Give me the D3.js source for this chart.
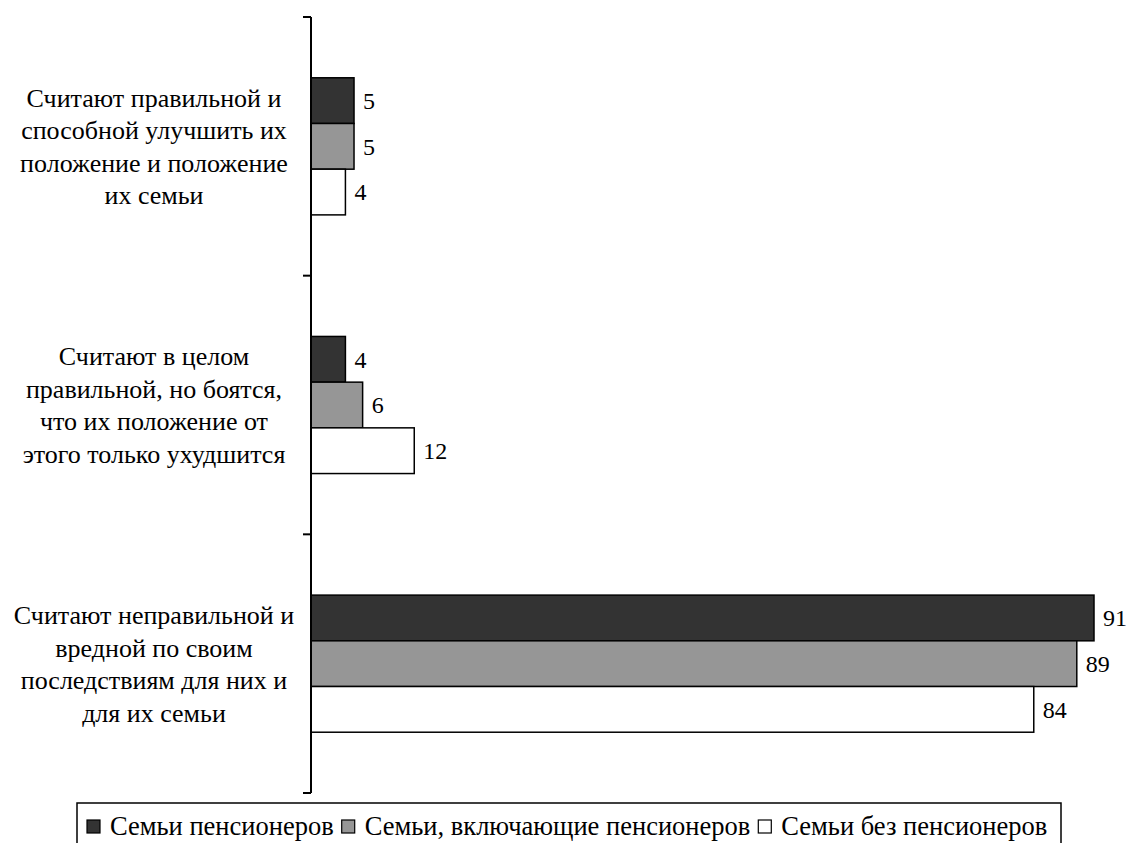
<!DOCTYPE html>
<html>
<head>
<meta charset="utf-8">
<script src="https://cdn.jsdelivr.net/npm/d3@7"></script>
<style>
  body { margin: 0; background: #fff; }
</style>
</head>
<body>
<svg id="chart" width="1129" height="843"></svg>
<script>
// categories, top to bottom (each one split into lines)
var categories = [
  ['Считают правильной и', 'способной улучшить их', 'положение и положение', 'их семьи'],
  ['Считают в целом', 'правильной, но боятся,', 'что их положение от', 'этого только ухудшится'],
  ['Считают неправильной и', 'вредной по своим', 'последствиям для них и', 'для их семьи']
];
var seriesNames = ['Семьи пенсионеров', 'Семьи, включающие пенсионеров', 'Семьи без пенсионеров'];
var seriesColors = ['#333333', '#969696', '#ffffff'];

var pensioners = [5, 4, 91];
var withPensioners = [5, 6, 89];
var withoutPensioners = [4, 12, 84];
var series = [pensioners, withPensioners, withoutPensioners];

var svg = d3.select('#chart');
var font = 'Liberation Serif';

// scales
var x = d3.scaleLinear().domain([0, 91]).range([311, 1094]);
var y = d3.scaleBand().domain(d3.range(categories.length)).range([17, 793]);
var yInner = d3.scaleBand()
  .domain(d3.range(series.length))
  .range([0, y.bandwidth()])
  .paddingOuter(1.33);

// bars
for (let s = 0; s < series.length; s++) {
  var g = svg.append('g');
  g.selectAll('rect')
    .data(series[s])
    .enter()
    .append('rect')
    .attr('x', x(0))
    .attr('y', (d, i) => y(i) + yInner(s))
    .attr('width', d => x(d) - x(0))
    .attr('height', yInner.bandwidth())
    .attr('fill', seriesColors[s])
    .attr('stroke', '#000')
    .attr('stroke-width', 1.5);

  g.selectAll('text')
    .data(series[s])
    .enter()
    .append('text')
    .attr('x', d => x(d) + 9)
    .attr('y', (d, i) => y(i) + yInner(s) + yInner.bandwidth() / 2)
    .attr('dy', '0.35em')
    .attr('font-family', font)
    .attr('font-size', 24)
    .text(d => d);
}

// axis line with ticks between categories
var axis = svg.append('g');
axis.append('line')
  .attr('x1', x(0)).attr('x2', x(0))
  .attr('y1', y.range()[0]).attr('y2', y.range()[1])
  .attr('stroke', '#000').attr('stroke-width', 2);
for (let i = 0; i <= categories.length; i++) {
  var ty = y.range()[0] + i * y.step();
  axis.append('line')
    .attr('x1', x(0) - 8).attr('x2', x(0))
    .attr('y1', ty).attr('y2', ty)
    .attr('stroke', '#000').attr('stroke-width', 2);
}

// category labels
var lineH = 32.5;
categories.forEach(function(lines, i) {
  var cy = y(i) + y.bandwidth() / 2;
  var t = svg.append('text')
    .attr('text-anchor', 'middle')
    .attr('font-family', font)
    .attr('font-size', 26);
  lines.forEach(function(l, j) {
    t.append('tspan')
      .attr('x', 154)
      .attr('y', cy + (j - (lines.length - 1) / 2) * lineH)
      .attr('dy', '0.35em')
      .text(l);
  });
});

// legend
var legend = svg.append('g');
legend.append('rect')
  .attr('x', 77).attr('y', 803)
  .attr('width', 1061 - 77).attr('height', 60)
  .attr('fill', '#fff').attr('stroke', '#000').attr('stroke-width', 1.5);
var lx = 87;
seriesNames.forEach(function(name, i) {
  legend.append('rect')
    .attr('x', lx).attr('y', 820)
    .attr('width', 13).attr('height', 13)
    .attr('fill', seriesColors[i]).attr('stroke', '#000').attr('stroke-width', 1.2);
  var t = legend.append('text')
    .attr('x', lx + 23).attr('y', 835)
    .attr('font-family', font)
    .attr('font-size', 26.5)
    .text(name);
  lx += 23 + t.node().getComputedTextLength() + 8;
});
</script>
</body>
</html>
